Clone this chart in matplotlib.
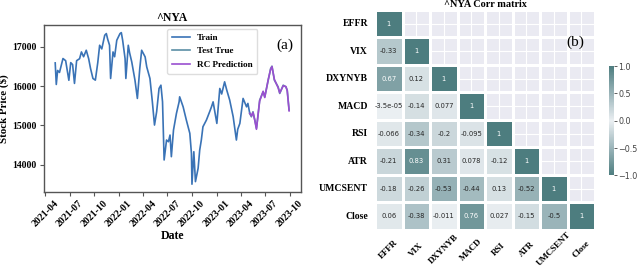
import numpy as np
import pandas as pd
import matplotlib
matplotlib.use("Agg")
import matplotlib.pyplot as plt
import matplotlib.dates as mdates
from matplotlib.colors import LinearSegmentedColormap
import seaborn as sns

# ---------------- data: left panel (^NYA close) ----------------
train_dates = ["2021-05-08", "2021-05-12", "2021-05-17", "2021-05-24", "2021-06-06", "2021-06-16",
               "2021-06-28", "2021-07-05", "2021-07-12", "2021-07-19", "2021-07-27", "2021-08-07",
               "2021-08-14", "2021-08-22", "2021-09-01", "2021-09-10", "2021-09-17", "2021-09-26",
               "2021-10-05", "2021-10-14", "2021-10-21", "2021-10-29", "2021-11-09", "2021-11-15",
               "2021-11-20", "2021-11-27", "2021-12-01", "2021-12-10", "2021-12-16", "2021-12-24",
               "2022-01-05", "2022-01-10", "2022-01-15", "2022-01-24", "2022-01-27", "2022-02-05",
               "2022-02-10", "2022-02-18", "2022-03-02", "2022-03-11", "2022-03-20", "2022-03-27",
               "2022-04-09", "2022-04-15", "2022-04-27", "2022-05-06", "2022-05-14", "2022-05-22",
               "2022-05-31", "2022-06-07", "2022-06-13", "2022-06-19", "2022-06-28", "2022-07-05",
               "2022-07-11", "2022-07-16", "2022-07-24", "2022-08-04", "2022-08-14", "2022-08-16",
               "2022-08-29", "2022-09-10", "2022-09-23", "2022-09-29", "2022-10-01", "2022-10-08",
               "2022-10-14", "2022-10-24", "2022-10-30", "2022-11-05", "2022-11-11", "2022-11-24",
               "2022-12-06", "2022-12-13", "2022-12-19", "2023-01-02", "2023-01-13", "2023-01-20",
               "2023-01-31", "2023-02-08", "2023-02-19", "2023-03-04", "2023-03-16", "2023-03-21",
               "2023-03-29", "2023-04-10", "2023-04-23", "2023-04-28", "2023-05-05"]
train_values = [16593, 16043, 16400, 16350, 16705, 16650,
                16150, 16600, 16550, 16070, 16650, 16700,
                16873, 16750, 16916, 16700, 16450, 16196,
                16153, 16600, 17043, 16950, 17298, 17341,
                17200, 17043, 16196, 16873, 16750, 17170,
                17340, 17366, 17170, 16705, 16196, 17043,
                16850, 16618, 16153, 15687, 16450, 16916,
                16746, 16491, 16196, 15600, 15008, 15346,
                15941, 16025, 15600, 14117, 14626, 14583,
                14753, 14201, 14880, 15305, 15600, 15728,
                15473, 15135, 14796, 14288, 13499, 14328,
                13565, 13906, 14372, 14626, 14964, 15135,
                15346, 15473, 15600, 15050, 15941, 15800,
                16110, 15900, 15644, 15219, 14626, 14900,
                15051, 15687, 15473, 15560, 15305]

test_dates = ["2023-05-05", "2023-05-11", "2023-05-17", "2023-05-24", "2023-05-30", "2023-06-04",
              "2023-06-11", "2023-06-24", "2023-06-30", "2023-07-13", "2023-07-22", "2023-07-27",
              "2023-08-05", "2023-08-19", "2023-08-25", "2023-09-07", "2023-09-17", "2023-09-22",
              "2023-09-29"]
test_true = [15305, 15219, 15346, 15135, 14924, 15200,
             15644, 15855, 15728, 16153, 16450, 16509,
             16153, 15982, 15814, 16025, 15982, 15898,
             15390]
rc_pred = [15305, 15240, 15330, 15120, 14900, 15220,
           15620, 15870, 15710, 16170, 16430, 16500,
           16170, 15960, 15830, 16010, 15990, 15880,
           15370]

# ---------------- data: right panel (correlation matrix) ----------------
features = ["EFFR", "VIX", "DXYNYB", "MACD", "RSI", "ATR", "UMCSENT", "Close"]
corr_lower = [
    [1],
    [-0.33, 1],
    [0.67, 0.12, 1],
    [-3.5e-05, -0.14, 0.077, 1],
    [-0.066, -0.34, -0.2, -0.095, 1],
    [-0.21, 0.83, 0.31, 0.078, -0.12, 1],
    [-0.18, -0.26, -0.53, -0.44, 0.13, -0.52, 1],
    [0.06, -0.38, -0.011, 0.76, 0.027, -0.15, -0.5, 1],
]
cbar_ticks = [-1.0, -0.5, 0.0, 0.5, 1.0]

# ---------------- figure ----------------
SERIF = "Liberation Serif"
fig = plt.figure(figsize=(6.4, 2.69), dpi=100)

# left panel
ax = fig.add_axes([0.068, 0.287, 0.402, 0.620])
td = pd.to_datetime(train_dates)
sd = pd.to_datetime(test_dates)
ax.plot(td, train_values, color="#3a73b6", lw=1.2, label="Train")
ax.plot(sd, test_true, color="#5b8fa6", lw=1.2, label="Test True")
ax.plot(sd, rc_pred, color="#9a4fd0", lw=1.2, label="RC Prediction")
ax.xaxis.set_major_locator(mdates.MonthLocator(bymonth=[1, 4, 7, 10]))
ax.xaxis.set_major_formatter(mdates.DateFormatter("%Y-%m"))
ax.set_yticks([14000, 15000, 16000, 17000])
for sp in ax.spines.values():
    sp.set_color("#555555")
    sp.set_linewidth(1.0)
ax.tick_params(axis="both", length=3, width=0.8, color="#555555", pad=2)
for lab in ax.get_xticklabels():
    lab.set_rotation(45)
    lab.set_fontfamily(SERIF)
    lab.set_fontweight("bold")
    lab.set_fontsize(7.2)
for lab in ax.get_yticklabels():
    lab.set_fontfamily(SERIF)
    lab.set_fontweight("bold")
    lab.set_fontsize(7.0)
ax.set_xlabel("Date", fontfamily=SERIF, fontweight="bold", fontsize=8.5, labelpad=1)
ax.set_ylabel("Stock Price ($)", fontfamily=SERIF, fontweight="bold", fontsize=7.8, labelpad=2)
ax.set_title("^NYA", fontfamily=SERIF, fontweight="bold", fontsize=8.5, pad=3)
leg = ax.legend(loc="upper left", bbox_to_anchor=(0.48, 0.976), borderaxespad=0,
                prop={"family": SERIF, "weight": "bold", "size": 6.6},
                handlelength=2.0, labelspacing=0.55, framealpha=1, edgecolor="#dddddd",
                fancybox=True, borderpad=0.5)
ax.text(0.94, 0.88, "(a)", transform=ax.transAxes, fontfamily=SERIF, fontsize=11,
        ha="center", va="center")

# right panel: heatmap
n = len(features)
mat = np.full((n, n), np.nan)
for i, row in enumerate(corr_lower):
    for j, v in enumerate(row):
        mat[i, j] = v
mask = np.isnan(mat)
df = pd.DataFrame(mat, index=features, columns=features)

cmap = LinearSegmentedColormap.from_list("tealdiv", ["#4d7d7f", "#9ab4b9", "#ebeff2",
                                                     "#9ab4b9", "#4d7d7f"])

hax = fig.add_axes([0.586, 0.145, 0.344, 0.818])
cax = fig.add_axes([0.952, 0.3476, 0.0075, 0.407])
hax.set_facecolor("#EAEAF2")
sns.heatmap(df, mask=mask, cmap=cmap, vmin=-1, vmax=1, annot=True, fmt=".2g",
            annot_kws={"fontsize": 4.9, "family": "DejaVu Sans"},
            linewidths=0.8, linecolor="white", ax=hax, cbar_ax=cax,
            cbar_kws={"ticks": cbar_ticks})
hax.grid(True, color="white", linewidth=0.8)
hax.set_axisbelow(True)
hax.tick_params(axis="both", length=0)
hax.tick_params(axis="y", pad=5)
hax.tick_params(axis="x", pad=14)
hax.set_yticklabels(features, rotation=0, fontfamily=SERIF, fontweight="bold", fontsize=7)
hax.set_xticklabels(features, rotation=45, ha="center", va="center", rotation_mode="anchor",
                    fontfamily=SERIF, fontweight="bold", fontsize=6.4)
hax.set_title("^NYA Corr matrix", fontfamily=SERIF, fontweight="bold", fontsize=7.4, pad=2)
hax.text(0.91, 0.855, "(b)", transform=hax.transAxes, fontfamily=SERIF, fontsize=11,
         ha="center", va="center")

cax.tick_params(labelsize=5.8, length=2, width=0.6, colors="#444444", pad=1)
cax.set_yticks(cbar_ticks)
cax.set_yticklabels(["\u22121.0", "\u22120.5", "0.0", "0.5", "1.0"])

fig.savefig("out.png", dpi=100)
